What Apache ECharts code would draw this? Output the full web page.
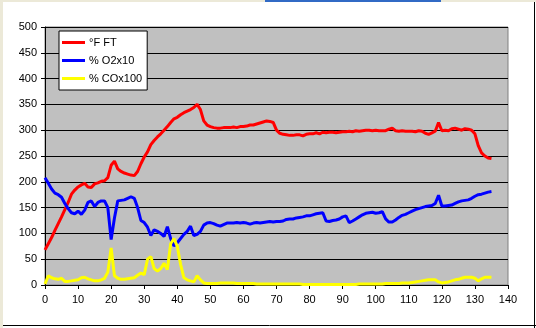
<!DOCTYPE html>
<html><head><meta charset="utf-8">
<script src="https://cdn.jsdelivr.net/npm/echarts@6/dist/echarts.min.js"></script>
<style>html,body{margin:0;padding:0;background:#fff;}#c{width:536px;height:328px;}</style>
</head><body><div id="c"></div>
<script>
const minutes = Array.from({length: 136}, (_, i) => i);
const seriesNames = ['°F FT', '% O2x10', '% COx100'];
const xTicks = {min: 0, max: 140, interval: 10};
const yTicks = {min: 0, max: 500, interval: 50};

const tempF = [68,80,92,106,119,132,146,160,176,184,190,194,197,190,189,196,198,201,202,208,
232,240,225,220,217,215,213,212,220,235,248,258,272,280,287,293,300,307,315,322,
325,330,334,337,340,344,350,340,318,310,307,305,304,304,305,305,305,306,305,307,
307,308,310,310,312,314,316,318,317,315,300,294,292,291,290,290,291,291,289,292,
293,293,295,293,296,295,296,296,295,296,297,297,298,297,299,298,299,300,300,299,
300,299,299,299,302,304,299,298,299,298,298,298,297,299,298,294,292,295,298,315,
299,300,299,303,304,302,300,303,302,300,293,270,256,250,246,245];

const o2x10 = [208,197,186,178,175,170,158,148,140,138,143,137,145,160,163,152,160,163,163,150,
88,130,163,164,165,168,171,168,150,125,121,112,96,107,104,100,94,113,90,76,
82,90,98,104,114,96,98,104,116,120,121,119,116,114,117,120,120,120,121,120,
121,120,118,120,121,120,121,122,123,122,123,123,124,127,128,128,130,131,132,134,
134,136,138,139,140,124,123,125,126,128,132,134,121,124,128,132,136,139,140,141,
139,140,142,128,122,122,126,131,135,137,140,143,146,148,150,152,153,154,158,174,
153,153,154,155,158,161,163,164,165,168,172,175,176,178,180,181];

const cox100 = [2,18,14,12,11,13,7,7,8,9,10,14,15,12,10,8,8,10,13,25,
72,18,13,11,11,12,13,14,19,23,20,50,55,32,27,32,42,30,80,90,
75,40,14,10,8,6,18,10,4,3,3,3,3,4,4,4,4,4,3,3,
3,3,3,3,2,2,2,2,2,2,2,2,2,2,2,2,2,2,1,1,
1,1,1,1,1,1,1,1,1,1,1,1,1,1,1,2,2,2,2,2,
2,2,2,3,3,3,3,3,4,4,4,5,6,7,8,9,10,10,10,6,
4,5,6,8,10,11,13,15,15,15,13,8,12,15,15,15];

const colors = ['#FF0000', '#0000FF', '#FFFF00'];
const values = [tempF, o2x10, cox100];

const chart = echarts.init(document.getElementById('c'), null, {renderer: 'canvas'});
const font = 'Liberation Sans, Arial, sans-serif';
chart.setOption({
  animation: false,
  backgroundColor: '#ffffff',
  textStyle: {fontFamily: font},
  graphic: [
    {type: 'rect', shape: {x: 0, y: 0, width: 536, height: 2}, style: {fill: '#ECE9D8'}, silent: true},
    {type: 'rect', shape: {x: 265, y: 0, width: 176, height: 2}, style: {fill: '#316AC5'}, silent: true},
    {type: 'rect', shape: {x: 0, y: 0, width: 3, height: 328}, style: {fill: '#ECE9D8'}, silent: true},
    {type: 'line', shape: {x1: 534.5, y1: 2, x2: 534.5, y2: 328}, style: {stroke: '#000', lineWidth: 1}, silent: true},
    {type: 'line', shape: {x1: 3, y1: 325.5, x2: 536, y2: 325.5}, style: {stroke: '#000', lineWidth: 1}, silent: true}
  ],
  grid: {left: 45, right: 28, top: 27, bottom: 43, show: true, backgroundColor: '#C0C0C0', borderColor: '#808080', borderWidth: 1},
  legend: {
    orient: 'vertical', left: 59, top: 31,
    backgroundColor: '#ffffff', borderColor: '#000000', borderWidth: 1,
    padding: [6, 5, 6, 3], itemGap: 7, itemWidth: 23, itemHeight: 3, icon: 'rect',
    textStyle: {fontSize: 11, color: '#000', fontFamily: font, padding: [0, 0, 0, -1]},
    data: seriesNames
  },
  xAxis: {
    type: 'value', min: xTicks.min, max: xTicks.max, interval: xTicks.interval,
    axisLine: {show: true, lineStyle: {color: '#000', width: 1}},
    axisTick: {show: true, length: 4, lineStyle: {color: '#000'}},
    axisLabel: {fontSize: 11, color: '#000', margin: 9, fontFamily: font},
    splitLine: {show: false}
  },
  yAxis: {
    type: 'value', min: yTicks.min, max: yTicks.max, interval: yTicks.interval,
    axisLine: {show: true, lineStyle: {color: '#000', width: 1}},
    axisTick: {show: true, length: 4, lineStyle: {color: '#000'}},
    axisLabel: {fontSize: 11, color: '#000', margin: 8, fontFamily: font},
    splitLine: {show: true, lineStyle: {color: '#000', width: 1}}
  },
  series: seriesNames.map((n, k) => ({
    name: n, type: 'line', showSymbol: false, symbol: 'none',
    lineStyle: {width: 3, color: colors[k]}, itemStyle: {color: colors[k]},
    data: minutes.map((m, i) => [m, values[k][i]])
  }))
});
</script></body></html>
